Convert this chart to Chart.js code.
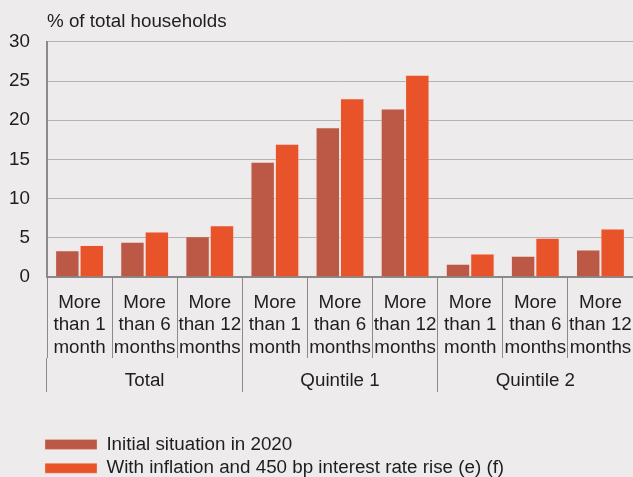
<!DOCTYPE html>
<html>
<head>
<meta charset="utf-8">
<script src="https://cdn.jsdelivr.net/npm/chart.js@4.4.1/dist/chart.umd.min.js"></script>
<style>
  html, body { margin: 0; padding: 0; background: #edebec; }
  #chart { display: block; }
</style>
</head>
<body>
<canvas id="chart" width="633" height="477"></canvas>
<script>
const durations = [
  ["More", "than 1", "month"],
  ["More", "than 6", "months"],
  ["More", "than 12", "months"],
  ["More", "than 1", "month"],
  ["More", "than 6", "months"],
  ["More", "than 12", "months"],
  ["More", "than 1", "month"],
  ["More", "than 6", "months"],
  ["More", "than 12", "months"]
];
const groups = ["Total", "Quintile 1", "Quintile 2"];
const initial2020 = [3.4, 4.5, 5.2, 14.7, 19.1, 21.5, 1.7, 2.7, 3.5];
const withInflation = [4.1, 5.8, 6.6, 17.0, 22.8, 25.8, 3.0, 5.0, 6.2];
const yTicks = [0, 5, 10, 15, 20, 25, 30];

const FONT = "'Liberation Sans', Arial, Helvetica, sans-serif";
const SIZE = 18.8;
const TEXT = "#1e1e1e";
const AXIS = "#8a8a8a";

// Legend sits a little left of the plot and lower than Chart.js would put it.
const legendNudge = {
  id: "legendNudge",
  afterLayout(chart) {
    const legend = chart.legend;
    if (!legend) return;
    const w = legend.width;
    legend.left = 40;
    legend.right = 40 + w;
    legend.top = 430;
    legend.bottom = 430 + legend.height;
  }
};

new Chart(document.getElementById("chart"), {
  type: "bar",
  data: {
    labels: durations,
    datasets: [
      {
        label: "Initial situation in 2020",
        data: initial2020,
        backgroundColor: "#bb5946",
        borderColor: "rgba(255, 220, 210, 0.45)",
        borderWidth: { top: 1, left: 1, right: 1, bottom: 0 },
        borderSkipped: "bottom",
        categoryPercentage: 0.75,
        barPercentage: 1.0
      },
      {
        label: "With inflation and 450 bp interest rate rise (e) (f)",
        data: withInflation,
        backgroundColor: "#e9532a",
        borderColor: "rgba(255, 220, 210, 0.45)",
        borderWidth: { top: 1, left: 1, right: 1, bottom: 0 },
        borderSkipped: "bottom",
        categoryPercentage: 0.75,
        barPercentage: 1.0
      }
    ]
  },
  options: {
    responsive: false,
    animation: false,
    layout: { padding: { left: 0, right: 0, top: 0, bottom: 0 } },
    plugins: {
      title: {
        display: true,
        text: "% of total households",
        align: "start",
        fullSize: false,
        color: TEXT,
        font: { family: FONT, size: SIZE, weight: "normal", lineHeight: 1.2 },
        padding: { top: 10.5, bottom: 8.9 }
      },
      legend: {
        display: true,
        position: "bottom",
        align: "start",
        labels: {
          boxWidth: 52,
          boxHeight: 10,
          padding: 5,
          color: TEXT,
          font: { family: FONT, size: SIZE }
        }
      },
      tooltip: { enabled: false }
    },
    scales: {
      x: {
        type: "category",
        offset: true,
        grid: {
          offset: true,
          drawOnChartArea: false,
          drawTicks: true,
          tickLength: 81,
          color: AXIS,
          lineWidth: 1
        },
        border: { display: true, color: AXIS, width: 2 },
        ticks: {
          autoSkip: false,
          maxRotation: 0,
          minRotation: 0,
          padding: -66,
          color: TEXT,
          font: { family: FONT, size: SIZE, lineHeight: 1.18 }
        },
        afterFit: (scale) => { scale.height = 81; }
      },
      x2: {
        type: "category",
        position: "bottom",
        labels: groups,
        offset: true,
        grid: {
          offset: true,
          drawOnChartArea: false,
          drawTicks: true,
          tickLength: 34,
          color: AXIS,
          lineWidth: 1
        },
        border: { display: false },
        ticks: {
          autoSkip: false,
          maxRotation: 0,
          padding: -22,
          color: TEXT,
          font: { family: FONT, size: SIZE, lineHeight: 1.18 }
        },
        afterFit: (scale) => { scale.height = 61.4; }
      },
      y: {
        min: 0,
        max: 30,
        afterBuildTicks: (scale) => {
          scale.ticks = yTicks.map((v) => ({ value: v }));
        },
        grid: {
          color: "#b2b2b2",
          lineWidth: 1,
          drawTicks: false
        },
        border: { display: true, color: AXIS, width: 2 },
        ticks: {
          padding: 17,
          color: TEXT,
          font: { family: FONT, size: SIZE }
        },
        afterFit: (scale) => { scale.width = 47; }
      }
    }
  },
  plugins: [legendNudge]
});
</script>
</body>
</html>
